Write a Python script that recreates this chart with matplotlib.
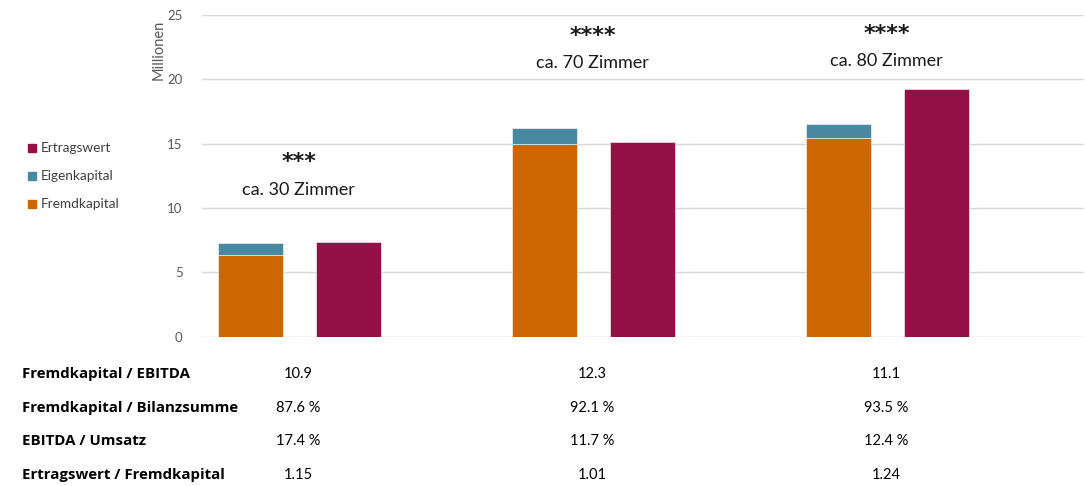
import numpy as np
import matplotlib.pyplot as plt
import matplotlib.transforms as mtransforms

plt.rcParams['font.family'] = ['Lato', 'DejaVu Sans']

# data (Millionen)
fremdkapital = [6.38, 14.95, 15.42]
eigenkapital = [0.94, 1.25, 1.10]
ertragswert = [7.34, 15.10, 19.25]
stars = ['***', '****', '****']
zimmer = ['ca. 30 Zimmer', 'ca. 70 Zimmer', 'ca. 80 Zimmer']
star_y = [13.6, 23.4, 23.5]
zimmer_y = [11.4, 21.3, 21.4]

row_labels = ['Fremdkapital / EBITDA', 'Fremdkapital / Bilanzsumme',
              'EBITDA / Umsatz', 'Ertragswert / Fremdkapital']
row_values = [['10.9', '12.3', '11.1'],
              ['87.6 %', '92.1 %', '93.5 %'],
              ['17.4 %', '11.7 %', '12.4 %'],
              ['1.15', '1.01', '1.24']]

c_fremd = '#CC6600'
c_eigen = '#4A88A2'
c_ertrag = '#961048'

fig = plt.figure(figsize=(10.85, 4.86), dpi=100)
ax = fig.add_axes([202 / 1085, 1 - 336.7 / 486, 882 / 1085, (336.7 - 15) / 486])

x = np.arange(3)
w = 0.221
x1 = x + 0.165
x2 = x + 0.498

ax.bar(x1, fremdkapital, w, color=c_fremd, edgecolor='white', linewidth=0.4, zorder=3)
ax.bar(x1, eigenkapital, w, bottom=fremdkapital, color=c_eigen, edgecolor='white', linewidth=0.4, zorder=3)
ax.bar(x2, ertragswert, w, color=c_ertrag, edgecolor='white', linewidth=0.4, zorder=3)

ax.set_xlim(0, 3)
ax.set_ylim(0, 25)
ax.set_yticks([0, 5, 10, 15, 20, 25])
ax.tick_params(axis='y', length=0, labelsize=9.5, labelcolor='#595959', pad=14)
ax.set_xticks([])
ax.grid(axis='y', color='#d9d9d9', linewidth=1, zorder=0)
for s in ax.spines.values():
    s.set_visible(False)

fig.text(159 / 1085, 1 - 20 / 486, 'Millionen', rotation=90, ha='center', va='top',
         fontsize=10.5, color='#595959')

centers = (x1 + x2) / 2 - 0.003
for i in range(3):
    ax.text(centers[i], star_y[i], stars[i], ha='center', va='center',
            fontsize=16, fontweight='bold', color='#1a1a1a', family='DejaVu Sans')
    ax.text(centers[i], zimmer_y[i], zimmer[i], ha='center', va='center',
            fontsize=13, color='#1a1a1a')

# legend
leg_items = [('Ertragswert', c_ertrag), ('Eigenkapital', c_eigen), ('Fremdkapital', c_fremd)]
for k, (name, col) in enumerate(leg_items):
    yy = 1 - (148 + 28 * k) / 486
    fig.patches.append(plt.Rectangle((28 / 1085, yy - 4 / 486), 8 / 1085, 8 / 486,
                                     transform=fig.transFigure, color=col))
    fig.text(40.5 / 1085, yy, name, ha='left', va='center', fontsize=9.8, color='#404040')

# table below
trans = mtransforms.blended_transform_factory(ax.transData, fig.transFigure)
for r, (lab, vals) in enumerate(zip(row_labels, row_values)):
    yy = 1 - (374 + 33.7 * r) / 486
    fig.text(22 / 1085, yy, lab, ha='left', va='center', fontsize=10.8,
             fontweight='bold', color='#000000', family='Open Sans')
    for i in range(3):
        ax.text(centers[i], yy, vals[i], transform=trans, ha='center', va='center',
                fontsize=10.5, color='#000000', clip_on=False)

fig.savefig('out.png', dpi=100)
